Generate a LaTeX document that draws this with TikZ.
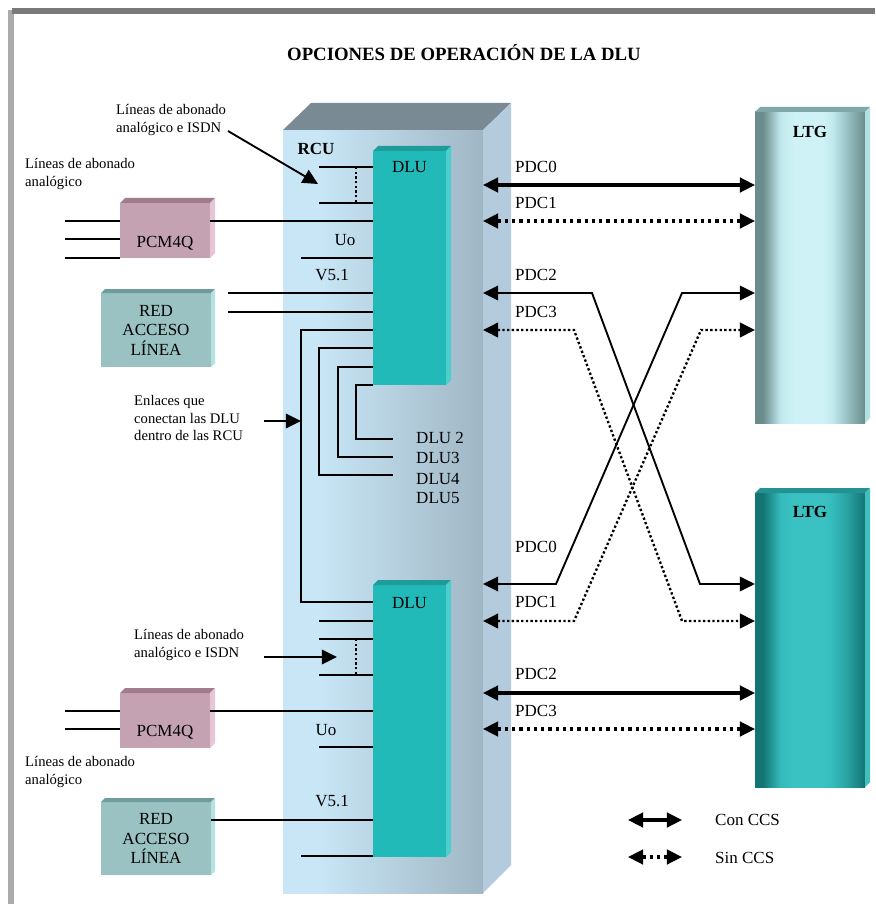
\documentclass[tikz,border=0pt]{standalone}
\usepackage{fontspec}
\setmainfont{Liberation Serif}
\usetikzlibrary{arrows.meta,positioning}
\definecolor{rcuL}{RGB}{200,230,246}
\definecolor{rcuD}{RGB}{160,182,196}
\definecolor{rcuT}{RGB}{121,138,149}
\definecolor{rcuS}{RGB}{179,203,221}
\definecolor{dluF}{RGB}{34,186,184}
\definecolor{dluT}{RGB}{30,156,154}
\definecolor{dluS}{RGB}{76,206,204}
\definecolor{pcmF}{RGB}{196,162,178}
\definecolor{pcmT}{RGB}{160,124,140}
\definecolor{pcmS}{RGB}{230,198,214}
\definecolor{redF}{RGB}{154,194,194}
\definecolor{redT}{RGB}{110,156,156}
\definecolor{redS}{RGB}{180,226,226}
\definecolor{ltgAD}{RGB}{106,140,140}
\definecolor{ltgAM}{RGB}{150,192,194}
\definecolor{ltgAL}{RGB}{192,232,236}
\definecolor{ltgALL}{RGB}{206,242,246}
\definecolor{ltgAT}{RGB}{128,168,168}
\definecolor{ltgAS}{RGB}{176,226,228}
\definecolor{ltgBD}{RGB}{20,116,116}
\definecolor{ltgBM}{RGB}{40,160,160}
\definecolor{ltgBL}{RGB}{52,186,186}
\definecolor{ltgBLL}{RGB}{58,194,194}
\definecolor{ltgBT}{RGB}{36,146,146}
\definecolor{ltgBS}{RGB}{66,190,190}
\pgfdeclarehorizontalshading{rcushade}{100bp}{color(0bp)=(rcuL); color(34bp)=(rcuL); color(75bp)=(rcuD); color(100bp)=(rcuD)}
\pgfdeclarehorizontalshading{ltgupper}{100bp}{color(0bp)=(ltgAD); color(25bp)=(ltgAD); color(28.5bp)=(ltgAD); color(36.5bp)=(ltgAL); color(42.5bp)=(ltgALL); color(56bp)=(ltgALL); color(60.5bp)=(ltgAL); color(67bp)=(ltgAM); color(75bp)=(ltgAD); color(100bp)=(ltgAD)}
\pgfdeclarehorizontalshading{ltglower}{100bp}{color(0bp)=(ltgBD); color(25bp)=(ltgBD); color(28.5bp)=(ltgBD); color(36.5bp)=(ltgBL); color(42.5bp)=(ltgBLL); color(56bp)=(ltgBLL); color(60.5bp)=(ltgBL); color(67bp)=(ltgBM); color(75bp)=(ltgBD); color(100bp)=(ltgBD)}
\begin{document}
\begin{tikzpicture}[x=0.03cm, y=-0.03cm,
  >={Triangle[length=13pt,width=12.5pt]},
  box/.style={inner sep=0pt, outer sep=0pt, anchor=north west},
  lbl/.style={font=\fontsize{14.5}{16.6}\selectfont, inner sep=0pt, text depth=0pt},
  bold/.style={lbl, font=\bfseries\fontsize{14.5}{16.6}\selectfont},
  note/.style={font=\fontsize{12.5}{14.6}\selectfont, inner sep=0pt, align=left, anchor=west},
  wire/.style={line width=1.6pt},
  dotwire/.style={line width=2pt, dash pattern=on 2pt off 2pt},
  con/.style={line width=2.6pt, <->},
  sin/.style={line width=2.6pt, dash pattern=on 2.8pt off 3.4pt, <->}]
  \useasboundingbox (0,0) rectangle (875,904);
  \fill [black!33] (8,10) rectangle (14,904);
  \fill [black!52] (12,8) rectangle (875,14);
  \node [font=\bfseries\fontsize{16}{19}\selectfont, text depth=0pt] (title) at (464,52) {OPCIONES DE OPERACIÓN DE LA DLU};

  \node [box, shade, shading=rcushade, minimum width=6cm, minimum height=22.89cm] (rcu) at (283,130) {};
  \fill [rcuT] (rcu.north west) -- ++(28,-27) -- ([shift={(28,-27)}]rcu.north east) -- (rcu.north east) -- cycle;
  \fill [rcuS] (rcu.north east) -- ++(28,-27) -- ([shift={(28,-28)}]rcu.south east) -- (rcu.south east) -- cycle;

  \node [box, fill=dluF, minimum width=2.19cm, minimum height=7.02cm] (dluA) at (373,151) {};
  \node [box, fill=dluF, minimum width=2.19cm, minimum height=8.16cm] (dluB) at (373,585) {};
  \node [box, fill=pcmF, minimum width=2.7cm, minimum height=1.65cm] (pcmA) at (120,203) {};
  \node [box, fill=pcmF, minimum width=2.7cm, minimum height=1.65cm] (pcmB) at (120,693) {};
  \node [box, fill=redF, minimum width=3.3cm, minimum height=2.22cm] (redA) at (101,293) {};
  \node [box, fill=redF, minimum width=3.3cm, minimum height=2.19cm] (redB) at (101,802) {};
  \node [box, shade, shading=ltgupper, minimum width=3.3cm, minimum height=9.33cm] (ltgA) at (755,112) {};
  \node [box, shade, shading=ltglower, minimum width=3.3cm, minimum height=8.82cm] (ltgB) at (755,493) {};
  \foreach \bx/\dp/\tc/\sc in {dluA/5/dluT/dluS, dluB/5/dluT/dluS, pcmA/5/pcmT/pcmS, pcmB/5/pcmT/pcmS,
      redA/4/redT/redS, redB/4/redT/redS, ltgA/5/ltgAT/ltgAS, ltgB/5/ltgBT/ltgBS} {
    \fill [\tc] (\bx.north west) -- ++(\dp,-\dp) -- ([shift={(\dp,-\dp)}]\bx.north east) -- (\bx.north east) -- cycle;
    \fill [\sc] (\bx.north east) -- ++(\dp,-\dp) -- ([shift={(\dp,-\dp)}]\bx.south east) -- (\bx.south east) -- cycle;
  }

  \node [bold] (rcuTxt) at (316,149) {RCU};
  \node [lbl, below=9pt of dluA.north] (dluAtxt) {DLU};
  \node [lbl, below=10pt of dluB.north] (dluBtxt) {DLU};
  \node [bold, below=12pt of ltgA.north] (ltgAtxt) {LTG};
  \node [bold, below=11.5pt of ltgB.north] (ltgBtxt) {LTG};
  \node [lbl, above=9pt of pcmA.south] (pcmAtxt) {PCM4Q};
  \node [lbl, above=10pt of pcmB.south] (pcmBtxt) {PCM4Q};
  \node [lbl, align=center, font=\fontsize{14.5}{16.6}\selectfont] (redAtxt) at (redA) {RED\\ACCESO\\LÍNEA};
  \node [lbl, align=center, font=\fontsize{14.5}{16.6}\selectfont] (redBtxt) at (redB) {RED\\ACCESO\\LÍNEA};
  \node [lbl] (uoA) at (345,240) {Uo};
  \node [lbl] (vA) at (332,275) {V5.1};
  \node [lbl] (uoB) at (326,730) {Uo};
  \node [lbl] (vB) at (332,801) {V5.1};
  \foreach \n/\y/\t in {dlTwo/438/DLU 2, dlThree/458/DLU3, dlFour/479/DLU4, dlFive/498/DLU5}
    \node [lbl, anchor=west] (\n) at (416,\y) {\t};
  \foreach \n/\y/\t in {pdcA0/167/PDC0, pdcA1/203/PDC1, pdcA2/275/PDC2, pdcA3/312/PDC3,
      pdcB0/547/PDC0, pdcB1/602/PDC1, pdcB2/674/PDC2, pdcB3/711/PDC3}
    \node [lbl, anchor=west] (\n) at (515,\y) {\t};

  \node [note] (isdnA) at (116,120) {Líneas de abonado\\analógico e ISDN};
  \node [note] (anaA) at (25,174) {Líneas de abonado\\analógico};
  \node [note] (enl) at (134,418) {Enlaces que\\conectan las DLU\\dentro de las RCU};
  \node [note] (isdnB) at (134,645) {Líneas de abonado\\analógico e ISDN};
  \node [note] (anaB) at (25,772) {Líneas de abonado\\analógico};

  \foreach \y in {221,239,258}
    \draw [wire] (65,\y) -- (pcmA.west |- 0,\y);
  \foreach \y in {711,729}
    \draw [wire] (65,\y) -- (pcmB.west |- 0,\y);
  \foreach \x/\y in {319/167, 319/203, 301/258, 228/293, 228/312}
    \draw [wire] (\x,\y) -- (dluA.west |- 0,\y);
  \foreach \x/\y in {319/621, 319/639, 319/675, 319/747, 301/856}
    \draw [wire] (\x,\y) -- (dluB.west |- 0,\y);
  \draw [wire] (pcmA.east |- 0,221) -- (dluA.west |- 0,221);
  \draw [wire] (pcmB.east |- 0,711) -- (dluB.west |- 0,711);
  \draw [wire] (redB.east |- 0,820) -- (dluB.west |- 0,820);
  \draw [dotwire] (356,167) -- (356,203);
  \draw [dotwire] (356,639) -- (356,675);

  \coordinate (lkA) at (301,330);
  \draw [wire] (dluA.west |- lkA) -- (lkA) |- (dluB.west |- 0,602);
  \foreach \y/\x/\ye in {348/319/475, 367/338/457, 385/356/439} {
    \coordinate (lk\ye) at (393,\ye);
    \draw [wire] (dluA.west |- 0,\y) -| (\x,\ye) -- (lk\ye);
  }

  \coordinate (isdnAs) at (228,131);
  \coordinate (isdnAe) at (318,184);
  \draw [wire, ->] (isdnAs) -- (isdnAe);
  \coordinate (enlS) at (264,421);
  \draw [wire, ->] (enlS) -- (enlS -| lkA);
  \coordinate (isdnBs) at (264,657);
  \coordinate (isdnBe) at (337,657);
  \draw [wire, ->] (isdnBs) -- (isdnBe);

  \draw [con] (rcu.east |- 0,185) -- (ltgA.west |- 0,185);
  \draw [sin] (rcu.east |- 0,221) -- (ltgA.west |- 0,221);
  \draw [wire, <->] (rcu.east |- 0,293) -- (592,293) -- (700,584) -- (ltgB.west |- 0,584);
  \draw [dotwire, <->] (rcu.east |- 0,330) -- (574,330) -- (682,621) -- (ltgB.west |- 0,621);
  \draw [wire, <->] (rcu.east |- 0,584) -- (556,584) -- (682,293) -- (ltgA.west |- 0,293);
  \draw [dotwire, <->] (rcu.east |- 0,621) -- (574,621) -- (701,330) -- (ltgA.west |- 0,330);
  \draw [con] (rcu.east |- 0,693) -- (ltgB.west |- 0,693);
  \draw [sin] (rcu.east |- 0,729) -- (ltgB.west |- 0,729);

  \node [lbl, anchor=west] (conTxt) at (715,820) {Con CCS};
  \node [lbl, anchor=west] (sinTxt) at (715,858) {Sin CCS};
  \coordinate (conL) at (628,820);
  \coordinate (sinL) at (628,857);
  \draw [con] (conL) -- ++(54,0);
  \draw [sin] (sinL) -- ++(54,0);
\end{tikzpicture}
\end{document}
